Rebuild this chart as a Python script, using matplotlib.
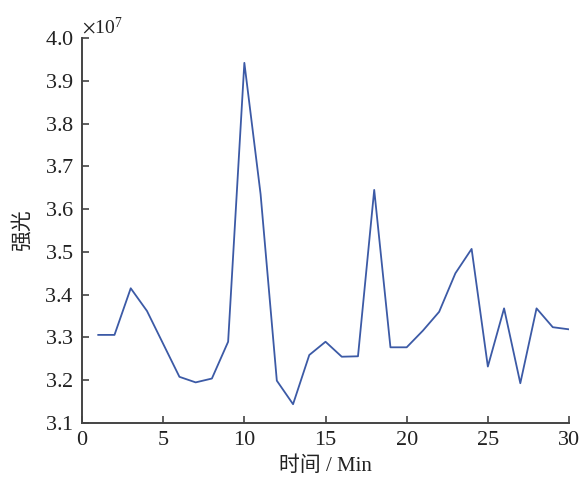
import matplotlib
matplotlib.use("Agg")
import matplotlib.pyplot as plt
from matplotlib.ticker import ScalarFormatter, MultipleLocator

# time points (min) and intensity
minutes = list(range(1, 31))
intensity = [
    3.306e7, 3.306e7, 3.415e7, 3.362e7, 3.285e7, 3.208e7, 3.195e7, 3.204e7, 3.290e7, 3.942e7,
    3.635e7, 3.199e7, 3.144e7, 3.259e7, 3.290e7, 3.255e7, 3.256e7, 3.645e7, 3.277e7, 3.277e7,
    3.316e7, 3.360e7, 3.450e7, 3.507e7, 3.232e7, 3.368e7, 3.193e7, 3.368e7, 3.324e7, 3.319e7,
]

plt.rcParams["font.family"] = ["Liberation Serif", "Noto Sans CJK SC", "DejaVu Sans"]
plt.rcParams["mathtext.fontset"] = "stix"
plt.rcParams["axes.unicode_minus"] = False

fig = plt.figure(figsize=(5.83, 4.80), dpi=100)
ax = fig.add_axes([0.1407, 0.1187, 0.8353, 0.8021])

ax.plot(minutes, intensity, color="#3c5aa6", linewidth=1.3)

ax.set_xlim(0, 30)
ax.set_ylim(3.1e7, 4.0e7)
ax.xaxis.set_major_locator(MultipleLocator(5))
ax.yaxis.set_major_locator(MultipleLocator(0.1e7))

fmt = ScalarFormatter(useMathText=True)
fmt.set_powerlimits((0, 0))
ax.yaxis.set_major_formatter(fmt)
ax.yaxis.get_offset_text().set_fontsize(14)
ax.yaxis.get_offset_text().set_color("#333333")

for side in ("top", "right"):
    ax.spines[side].set_visible(False)
for side in ("left", "bottom"):
    ax.spines[side].set_linewidth(1.4)
    ax.spines[side].set_color("#444444")

ax.tick_params(direction="in", length=5, width=1.2, colors="#444444",
               labelsize=16, labelcolor="#222222", pad=6)

ax.set_xlabel("时间 / Min", fontsize=15, color="#222222", labelpad=4)
ax.set_ylabel("强光", fontsize=15, color="#222222", labelpad=8)

fig.savefig("out.png", dpi=100)
